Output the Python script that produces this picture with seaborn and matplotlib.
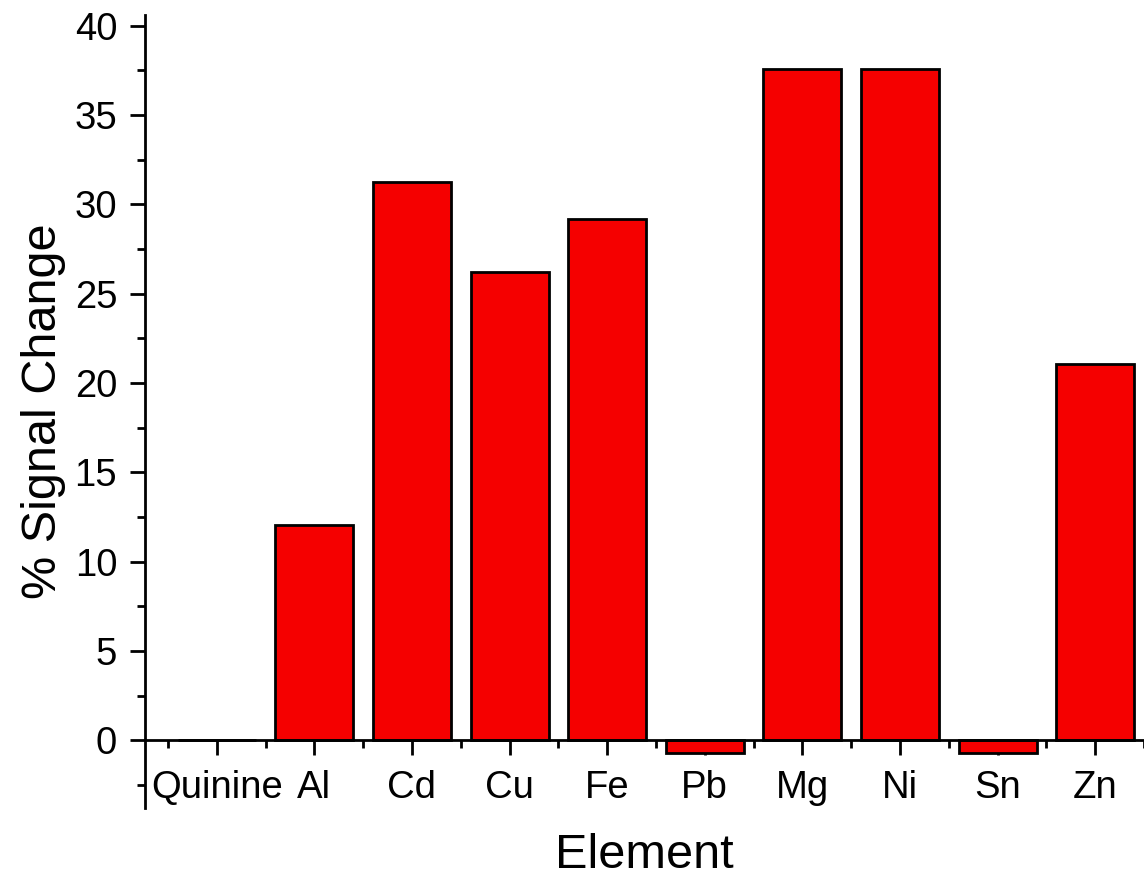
import matplotlib
matplotlib.use("Agg")
import matplotlib.pyplot as plt
import seaborn as sns
from matplotlib.ticker import MultipleLocator

# Data
elements = ["Quinine", "Al", "Cd", "Cu", "Fe", "Pb", "Mg", "Ni", "Sn", "Zn"]
signal_change = [0.0, 12.06, 31.25, 26.2, 29.2, -0.7, 37.6, 37.6, -0.7, 21.07]

sns.set_theme(style="white")
plt.rcParams["font.family"] = ["Liberation Sans", "DejaVu Sans"]
plt.rcParams["text.color"] = "black"
plt.rcParams["axes.labelcolor"] = "black"

fig = plt.figure(figsize=(11.44, 8.77), dpi=100)
ax = fig.add_axes([145 / 1144, 69 / 877, 1 - 145 / 1144, (862 - 69) / 877])

sns.barplot(x=elements, y=signal_change, color="#f50000", saturation=1,
            edgecolor="black", linewidth=2, width=0.8, ax=ax)

# Axis limits
ax.set_xlim(-0.735, 9.46)
ax.set_ylim(-3.78, 40.6)

# Spines: bottom axis sits on zero
ax.spines["top"].set_visible(False)
ax.spines["right"].set_visible(False)
ax.spines["bottom"].set_position(("data", 0))
for s in ["left", "bottom"]:
    ax.spines[s].set_linewidth(2)
    ax.spines[s].set_color("black")

# Ticks
ax.yaxis.set_major_locator(MultipleLocator(5))
ax.yaxis.set_minor_locator(MultipleLocator(2.5))
ax.set_yticks(range(0, 41, 5))
ax.set_xticks(range(len(elements)))
ax.set_xticklabels(elements)
ax.set_xticks([i - 0.5 for i in range(len(elements) + 1)], minor=True)

ax.tick_params(axis="both", which="major", direction="out", length=11,
               width=2, color="black", labelsize=27.5, labelcolor="black")
ax.tick_params(axis="both", which="minor", direction="out", length=6,
               width=2, color="black")
ax.tick_params(axis="x", which="major", pad=10)
ax.tick_params(axis="y", which="major", pad=9)
ax.tick_params(bottom=True, left=True, which="both")

# Labels
ax.set_ylabel("% Signal Change", fontsize=35, labelpad=6, color="black")
ax.set_xlabel("")
fig.text((145 + 1144) / 2 / 1144, 1 - 855 / 877, "Element", fontsize=35,
         ha="center", va="center", color="black")

fig.savefig("out.png", dpi=100)
